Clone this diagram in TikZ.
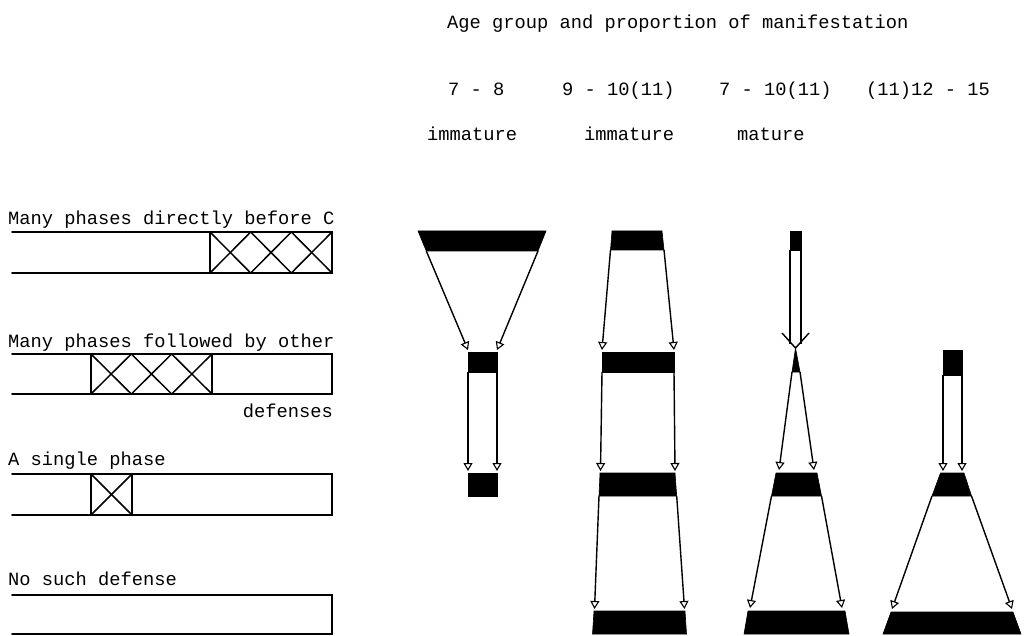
\documentclass[tikz,border=0pt]{standalone}
\usepackage{fontspec}
\setmonofont{Liberation Mono}
\usetikzlibrary{arrows.meta}
\begin{document}
\begin{tikzpicture}[x=1pt,y=-1pt,
  txt/.style={font=\ttfamily\fontsize{18.75}{22}\selectfont, inner sep=0pt, anchor=base west},
  band/.style={fill=black, draw=black, line width=0.6pt},
  flow/.style={-{Triangle[open,length=8pt,width=9pt,line width=1.1pt]}, line width=1.4pt},
  shaft/.style={line width=1.4pt},
  barline/.style={line width=1.6pt, line cap=round},
  hatch/.style={line width=1.5pt}]
\useasboundingbox (0,0) rectangle (1030,636);
% ---------- texts ----------
\node[txt] (title) at (447,29) {Age group and proportion of manifestation};
\node[txt] (a1) at (448,96) {7 - 8};
\node[txt] (a2) at (562,96) {9 - 10(11)};
\node[txt] (a3) at (719,96) {7 - 10(11)};
\node[txt] (a4) at (866,96) {(11)12 - 15};
\node[txt] (m1) at (427,141) {immature};
\node[txt] (m2) at (584,141) {immature};
\node[txt] (m3) at (737,141) {mature};
\node[txt] (l1) at (8,225) {Many phases directly before C};
\node[txt] (l2) at (8,347) {Many phases followed by other};
\node[txt,anchor=base east] (l2b) at (333,417) {defenses};
\node[txt] (l3) at (8,465) {A single phase};
\node[txt] (l4) at (8,585) {No such defense};
% ---------- bars ----------
\draw[barline] (12,232) -- (332,232) -- (332,273) -- (12,273);
\draw[hatch] (210,232) -- (210,273);
\foreach \i in {0,1,2} {
  \draw[hatch] ({210+40.67*\i},232) -- ({210+40.67*(\i+1)},273);
  \draw[hatch] ({210+40.67*\i},273) -- ({210+40.67*(\i+1)},232);
}
\draw[barline] (12,354) -- (332,354) -- (332,394) -- (12,394);
\draw[hatch] (91,354) -- (91,394);
\draw[hatch] (212,354) -- (212,394);
\foreach \i in {0,1,2} {
  \draw[hatch] ({91+40.33*\i},354) -- ({91+40.33*(\i+1)},394);
  \draw[hatch] ({91+40.33*\i},394) -- ({91+40.33*(\i+1)},354);
}
\draw[barline] (12,474) -- (332,474) -- (332,515) -- (12,515);
\draw[hatch] (91,474) -- (91,515);
\draw[hatch] (132,474) -- (132,515);
\draw[hatch] (91,474) -- (132,515);
\draw[hatch] (91,515) -- (132,474);
\draw[barline] (12,595) -- (332,595) -- (332,634) -- (12,634);
% ---------- column 1 ----------
\coordinate (p1aBL) at (426.3,251); \coordinate (p1aBR) at (538,251);
\coordinate (p1bTL) at (468,350);   \coordinate (p1bTR) at (497,350);
\coordinate (p1bBL) at (468,372);   \coordinate (p1bBR) at (497,372);
\coordinate (p1cTL) at (468,471);   \coordinate (p1cTR) at (497,471);
\fill[band] (418,231) -- (546,231) -- (p1aBR) -- (p1aBL) -- cycle;
\fill[band] (468,352) rectangle (497,372);
\fill[band] (468,473) rectangle (497,496);
\draw[flow] (p1aBL) -- (p1bTL);
\draw[flow] (p1aBR) -- (p1bTR);
\draw[flow] (p1bBL) -- (p1cTL);
\draw[flow] (p1bBR) -- (p1cTR);
% ---------- column 2 ----------
\coordinate (p2aBL) at (610.5,250); \coordinate (p2aBR) at (664,250);
\coordinate (p2bTL) at (602,350);   \coordinate (p2bTR) at (674,350);
\coordinate (p2bBL) at (602,372);   \coordinate (p2bBR) at (674,372);
\coordinate (p2cTL) at (600.5,471); \coordinate (p2cTR) at (675,471);
\coordinate (p2cBL) at (599,496);   \coordinate (p2cBR) at (676.7,496);
\coordinate (p2dTL) at (594.5,609); \coordinate (p2dTR) at (684.5,609);
\fill[band] (612,231) -- (662,231) -- (p2aBR) -- (p2aBL) -- cycle;
\fill[band] (602,352) rectangle (674,372);
\fill[band] (600,473) -- (675,473) -- (p2cBR) -- (p2cBL) -- cycle;
\fill[band] (594,611) -- (685,611) -- (686.5,634) -- (592.5,634) -- cycle;
\draw[flow] (p2aBL) -- (p2bTL);
\draw[flow] (p2aBR) -- (p2bTR);
\draw[flow] (p2bBL) -- (p2cTL);
\draw[flow] (p2bBR) -- (p2cTR);
\draw[flow] (p2cBL) -- (p2dTL);
\draw[flow] (p2cBR) -- (p2dTR);
% ---------- column 3 ----------
\coordinate (p3sL) at (790,250);  \coordinate (p3sR) at (801,250);
\coordinate (p3eL) at (790,344);  \coordinate (p3eR) at (801,344);
\coordinate (p3tip) at (795.5,348);
\coordinate (p3bBL) at (792,372); \coordinate (p3bBR) at (800,372);
\coordinate (p3cTL) at (779,470); \coordinate (p3cTR) at (814,470);
\coordinate (p3cBL) at (771.5,496); \coordinate (p3cBR) at (821.5,496);
\coordinate (p3dTL) at (750,608); \coordinate (p3dTR) at (842,608);
\fill[band] (790,231) rectangle (801,250);
\draw[shaft] (p3sL) -- (p3eL);
\draw[shaft] (p3sR) -- (p3eR);
\draw[shaft] (782,333) -- (p3tip) -- (809,333);
\fill[band] (p3tip) -- (p3bBR) -- (p3bBL) -- cycle;
\fill[band] (776,473) -- (817,473) -- (p3cBR) -- (p3cBL) -- cycle;
\fill[band] (748,611) -- (845,611) -- (849,634) -- (744,634) -- cycle;
\draw[flow] (p3bBL) -- (p3cTL);
\draw[flow] (p3bBR) -- (p3cTR);
\draw[flow] (p3cBL) -- (p3dTL);
\draw[flow] (p3cBR) -- (p3dTR);
% ---------- column 4 ----------
\coordinate (p4aBL) at (943,375); \coordinate (p4aBR) at (962,375);
\coordinate (p4cTL) at (943,471); \coordinate (p4cTR) at (962,471);
\coordinate (p4cBL) at (932,496); \coordinate (p4cBR) at (971.5,496);
\coordinate (p4dTL) at (892,609); \coordinate (p4dTR) at (1012,609);
\fill[band] (943,350) rectangle (962,375);
\fill[band] (940.5,473) -- (964,473) -- (p4cBR) -- (p4cBL) -- cycle;
\fill[band] (891,612) -- (1013,612) -- (1021,634) -- (883,634) -- cycle;
\draw[flow] (p4aBL) -- (p4cTL);
\draw[flow] (p4aBR) -- (p4cTR);
\draw[flow] (p4cBL) -- (p4dTL);
\draw[flow] (p4cBR) -- (p4dTR);
\end{tikzpicture}
\end{document}
